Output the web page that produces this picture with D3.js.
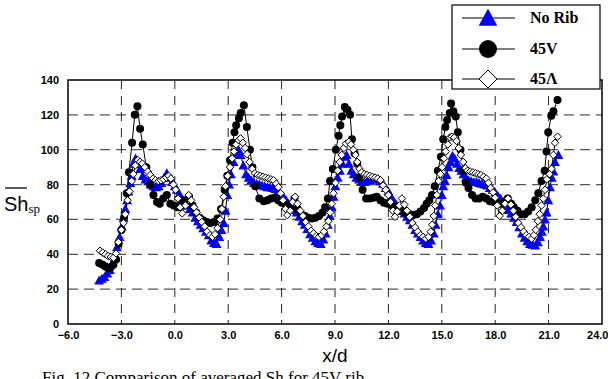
<!DOCTYPE html>
<html><head><meta charset="utf-8">
<script src="https://cdn.jsdelivr.net/npm/d3@7/dist/d3.min.js"></script>
<style>body{margin:0;background:#fff}svg{display:block}</style>
</head><body>
<svg id="c" width="608" height="379"></svg>
<script>
const xTicks = [-6,-3,0,3,6,9,12,15,18,21,24];
const yTicks = [0,20,40,60,80,100,120,140];

const noRibX = [-4.25,-4.1,-3.95,-3.8,-3.65,-3.5,-3.35,-3.25,-3.1,-2.98,-2.88,-2.78,-2.68,-2.6,-2.5,-2.42,-2.33,-2.2,-2.05,-1.95,-1.8,-1.65,-1.5,-1.35,-1.2,-1.05,-0.9,-0.75,-0.6,-0.45,-0.3,-0.15,0.0,0.12,0.25,0.4,0.55,0.7,0.85,1.0,1.15,1.3,1.45,1.6,1.75,1.9,2.05,2.2,2.35,2.5,2.62,2.75,2.85,2.95,3.05,3.15,3.3,3.45,3.58,3.7,3.85,4.0,4.15,4.3,4.45,4.6,4.75,4.9,5.05,5.2,5.35,5.5,5.65,5.8,5.95,6.1,6.25,6.4,6.55,6.7,6.85,7.0,7.15,7.3,7.45,7.6,7.75,7.9,8.05,8.2,8.35,8.47,8.6,8.72,8.82,8.92,9.02,9.15,9.28,9.42,9.56,9.65,9.78,9.92,10.05,10.2,10.35,10.5,10.65,10.8,10.95,11.1,11.25,11.4,11.55,11.7,11.85,12.0,12.15,12.3,12.45,12.6,12.75,12.9,13.05,13.2,13.35,13.5,13.65,13.8,13.95,14.1,14.25,14.4,14.55,14.65,14.78,14.9,15.0,15.08,15.18,15.27,15.38,15.48,15.6,15.72,15.85,15.98,16.1,16.22,16.35,16.5,16.65,16.8,16.95,17.1,17.25,17.4,17.55,17.7,17.85,18.0,18.15,18.3,18.45,18.6,18.75,18.9,19.05,19.2,19.35,19.5,19.65,19.8,19.95,20.1,20.25,20.4,20.52,20.62,20.7,20.8,20.89,20.98,21.08,21.18,21.27,21.36,21.55];
const noRibY = [25,26,27,29,31,35,38,44,50,56,61,66,71,76,81,85,92,95,92,89,85,83,82,80,79,78.5,79,81,84,86.5,84,81.5,79,77,74.5,72,70,68,66,64,61,59,57,55,53,51,48,46.5,46,50,54,58,65,74,80,86,93,97,100,97,91,86,84,82.5,81,80.5,80,79.5,79,78.5,78.5,78,77.5,76,74.5,73,71,69,67,65.5,64,61.5,59,57,54.5,51.5,49.5,47.5,46.5,46,48.5,52,57,62,67,73,79,84,88,92,96,97,92,88,86,84,83,81.5,81.5,82,82.5,83,83.5,83,82,80.5,78,76,73,70.5,68.5,66.5,65,63.5,61.5,59.5,57,54,52,50,48,46.5,46,48,52,57,63,68,74,79,82,85.5,90,93,96.5,95,92,89.5,88,86,84,82.5,82,81.5,81.5,81,80.5,80,79.5,78,77,75.5,73.5,72,70,67.5,65.5,63.5,61,58.5,55.5,52,49.5,47.5,46,45.5,45,47,50,53,56,60,64,71,78.5,84,87.5,93,97];

const v45X = [-4.25,-4.05,-3.9,-3.75,-3.6,-3.45,-3.3,-3.15,-3.0,-2.85,-2.7,-2.58,-2.4,-2.25,-2.1,-1.95,-1.8,-1.6,-1.4,-1.2,-1.0,-0.85,-0.65,-0.45,-0.25,-0.05,0.15,0.35,0.55,0.8,1.0,1.2,1.4,1.6,1.8,2.0,2.2,2.4,2.6,2.8,2.95,3.1,3.25,3.35,3.45,3.6,3.7,3.88,4.05,4.22,4.36,4.52,4.75,5.0,5.2,5.4,5.6,5.8,6.0,6.25,6.5,6.72,6.9,7.1,7.3,7.5,7.7,7.9,8.1,8.3,8.45,8.6,8.72,8.88,9.05,9.2,9.3,9.4,9.55,9.7,9.85,9.95,10.1,10.25,10.35,10.55,10.75,10.95,11.15,11.35,11.55,11.75,11.95,12.2,12.4,12.6,12.8,13.0,13.2,13.4,13.6,13.8,14.0,14.15,14.3,14.45,14.6,14.78,14.95,15.08,15.2,15.3,15.45,15.52,15.65,15.78,15.9,16.05,16.2,16.35,16.5,16.7,16.9,17.1,17.3,17.5,17.7,17.9,18.1,18.3,18.5,18.7,18.9,19.05,19.25,19.45,19.65,19.85,20.05,20.25,20.42,20.6,20.78,20.88,20.98,21.15,21.27,21.5];
const v45Y = [35,34,33,32,32.5,34,37,46,54,61,75,87,104,120,125,112,103,90,80,74,70,69,72,74,69,68,67,69,71,73,68,64,61,59.5,58.5,58,58.5,60.5,66,77,85,94,104,110,114,118,121,125.5,113,100,90,79,72,70.5,71,72,72.5,71,69.5,68,67,72,66,63,62,61,60.5,61,62,64,67,72,82,89,100,108,114,119,124.5,123,120,106,98,92,84,77,72,72,72.5,73,71,69.5,69,68,67,66,64.5,63.5,63,62.5,63,64.5,66.5,69,71,74,79,88,96,106,113,117,121,126.5,122,119,110,100,88,81,78,74,72,72,73,72,70.5,70,69.5,69,70,72,69,67,65,63,63,64.5,67,71,75,82,88,99,110,119.5,122,128.5];

const l45X = [-4.2,-4.05,-3.9,-3.75,-3.6,-3.45,-3.3,-3.17,-3.0,-2.88,-2.78,-2.65,-2.55,-2.42,-2.33,-2.22,-2.08,-1.95,-1.82,-1.68,-1.52,-1.38,-1.22,-1.08,-0.92,-0.78,-0.63,-0.48,-0.35,-0.22,-0.08,0.05,0.18,0.3,0.42,0.6,0.78,0.92,1.08,1.22,1.38,1.52,1.68,1.82,1.98,2.12,2.26,2.4,2.55,2.65,2.75,2.85,2.97,3.1,3.22,3.33,3.45,3.58,3.7,3.82,3.95,4.06,4.2,4.35,4.5,4.65,4.8,4.95,5.1,5.25,5.4,5.55,5.7,5.82,5.95,6.08,6.22,6.32,6.48,6.62,6.76,6.9,7.05,7.2,7.35,7.5,7.65,7.8,7.95,8.1,8.25,8.38,8.52,8.63,8.73,8.82,8.92,9.03,9.15,9.27,9.38,9.5,9.62,9.78,9.9,10.03,10.15,10.25,10.38,10.5,10.65,10.8,10.95,11.1,11.25,11.4,11.55,11.7,11.85,12.0,12.12,12.25,12.37,12.5,12.62,12.76,12.9,13.05,13.2,13.35,13.5,13.65,13.8,13.95,14.1,14.25,14.38,14.46,14.55,14.63,14.72,14.82,14.92,15.02,15.12,15.22,15.34,15.46,15.58,15.7,15.83,15.95,16.07,16.2,16.33,16.45,16.6,16.75,16.9,17.05,17.2,17.35,17.5,17.62,17.75,17.88,18.0,18.12,18.25,18.4,18.55,18.72,18.88,19.02,19.15,19.3,19.45,19.6,19.75,19.9,20.05,20.18,20.28,20.4,20.5,20.6,20.7,20.8,20.9,21.05,21.17,21.27,21.36,21.5];
const l45Y = [42,41,40,39,38.5,38,40.5,47,54,58,63,71,76,82,86,91,94,93,92,90,87.5,85.5,83.5,82.5,82,82.5,83,84,85,83.5,80,77,72,67,63.5,68,74,71,67,64,61,58.5,56,53,51,50,51.5,55,60,66,73,79,85,90,95,99,103,105.5,106.5,104,101,97.5,93,89,86.5,85.5,85,84.5,84,83.5,83,82.5,80.5,78.5,75,71,66,62.5,65,70,73,69,65,62,58.5,56,53.5,52,50.5,50,51,53,56,59,64,69,75,81,88,93,97,101,103.5,104.5,103,100,97,93,89,87,86,85.5,85,84.5,84,83.5,82.5,79.5,77,74,70,65,61.5,64.5,68,72,68.5,65,61.5,58,55.5,53,51,50,49,50,53,57,62,68,74,82,86,90,95,99,103,107,107.5,107,105,101,97,93,89.5,88,87.5,87,86.5,86,85.5,84.5,83.5,81,78,75.5,72.5,68,62,65,69,72,68.5,65,61.5,58,55.5,53,51,50,49,51,54,59,63,68,72,77,83,86,89,97,104,107.5];

const seriesNames = ["No Rib","45V","45\u039B"];

const svg = d3.select("#c");
const L=68, R=602, T=80, B=324;
const x = d3.scaleLinear().domain([-6,24]).range([L,R]);
const y = d3.scaleLinear().domain([0,140]).range([B,T]);

// grid
const g = svg.append("g");
g.selectAll(".hg").data(yTicks.filter(v=>v>0&&v<140)).join("line")
  .attr("x1",L).attr("x2",R).attr("y1",d=>y(d)).attr("y2",d=>y(d))
  .attr("stroke","#555").attr("stroke-width",1.3).attr("stroke-dasharray","10,6");
g.selectAll(".vg").data(xTicks.filter(v=>v>-6&&v<24)).join("line")
  .attr("y1",T).attr("y2",B).attr("x1",d=>x(d)).attr("x2",d=>x(d))
  .attr("stroke","#222").attr("stroke-width",1).attr("stroke-dasharray","9,7");

// axes
const xa = svg.append("g").attr("transform",`translate(0,${B})`)
  .call(d3.axisBottom(x).tickValues(xTicks).tickSize(0).tickPadding(7).tickFormat(d=>d.toFixed(1).replace("-","\u2212")));
const ya = svg.append("g").attr("transform",`translate(${L},0)`)
  .call(d3.axisLeft(y).tickValues(yTicks).tickSize(0).tickPadding(9).tickFormat(d3.format("d")));
[xa,ya].forEach(a=>{a.select(".domain").remove();
  a.selectAll("text").attr("font-family","Liberation Sans, Arial, sans-serif").attr("font-weight","bold").attr("font-size",11).attr("fill","#000");});
xa.selectAll(".tick").filter(d=>d===24).select("text").attr("text-anchor","end").attr("dx",6);

svg.append("rect").attr("x",L).attr("y",T).attr("width",R-L).attr("height",B-T)
  .attr("fill","none").attr("stroke","#000").attr("stroke-width",1.5);

const line = d3.line().x(d=>x(d[0])).y(d=>y(d[1]));
const zip = (a,b)=>a.map((v,i)=>[v,b[i]]);
const sNo = zip(noRibX,noRibY), sV = zip(v45X,v45Y), sL = zip(l45X,l45Y);

const triPath = s => `M0,${-s*0.55}L${s*0.55},${s*0.45}L${-s*0.55},${s*0.45}Z`;
const diaPath = s => `M0,${-s/2}L${s/2},0L0,${s/2}L${-s/2},0Z`;

const plot = svg.append("g");
[sNo,sV,sL].forEach(s=>plot.append("path").attr("d",line(s)).attr("fill","none").attr("stroke","#000").attr("stroke-width",1));

plot.append("g").selectAll("path").data(sNo).join("path")
  .attr("transform",d=>`translate(${x(d[0])},${y(d[1])})`).attr("d",triPath(9)).attr("fill","#0000ff");
plot.append("g").selectAll("circle").data(sV).join("circle")
  .attr("cx",d=>x(d[0])).attr("cy",d=>y(d[1])).attr("r",4).attr("fill","#000");
plot.append("g").selectAll("path").data(sL).join("path")
  .attr("transform",d=>`translate(${x(d[0])},${y(d[1])})`).attr("d",diaPath(7.5))
  .attr("fill","#fff").attr("stroke","#000").attr("stroke-width",1);

// axis labels
svg.append("text").attr("x",(L+R)/2).attr("y",362).attr("text-anchor","middle")
  .attr("font-family","Liberation Sans, Arial, sans-serif").attr("font-size",19).text("x/d");
const yl = svg.append("text").attr("x",4).attr("y",211).attr("font-family","Liberation Sans, Arial, sans-serif").attr("font-size",20);
yl.append("tspan").text("Sh");
yl.append("tspan").attr("font-family","Liberation Serif, Times New Roman, serif").attr("font-size",13).attr("dy",2).text("sp");
svg.append("line").attr("x1",5).attr("x2",27).attr("y1",188).attr("y2",188).attr("stroke","#000").attr("stroke-width",1.3);

// caption (partly cut off at bottom edge, as in the reference)
svg.append("text").attr("x",42).attr("y",383).attr("font-family","Liberation Serif, Times New Roman, serif")
  .attr("font-size",17).text("Fig. 12 Comparison of averaged Sh for 45V rib");

// legend
const lg = svg.append("g");
lg.append("rect").attr("x",452).attr("y",5).attr("width",148).attr("height",84).attr("fill","#fff").attr("stroke","#000").attr("stroke-width",1.2);
const rowsY = [18,49,79];
rowsY.forEach((ry,i)=>{
  lg.append("line").attr("x1",462).attr("x2",515).attr("y1",ry).attr("y2",ry).attr("stroke","#000").attr("stroke-width",1);
  if(i===0) lg.append("path").attr("transform",`translate(488,${ry})`).attr("d",triPath(17)).attr("fill","#0000ff");
  if(i===1) lg.append("circle").attr("cx",488).attr("cy",ry).attr("r",9).attr("fill","#000");
  if(i===2) lg.append("path").attr("transform",`translate(488,${ry})`).attr("d",diaPath(18)).attr("fill","#fff").attr("stroke","#000").attr("stroke-width",1);
  lg.append("text").attr("x",530).attr("y",ry+5).attr("font-family","Liberation Serif, Times New Roman, serif")
    .attr("font-weight","bold").attr("font-size",16).text(seriesNames[i]);
});
</script>
</body></html>
